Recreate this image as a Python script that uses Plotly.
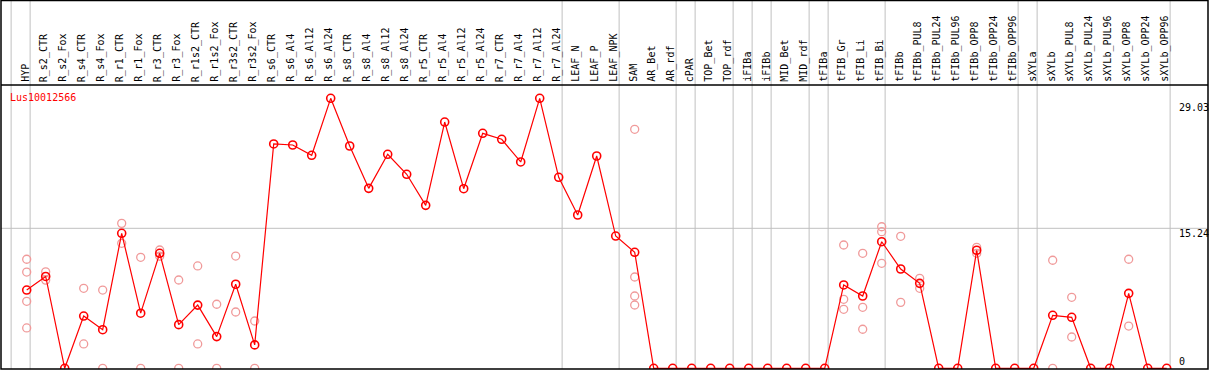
import plotly.graph_objects as go

gene = "Lus10012566"

categories = [
    "HYP", "R_s2_CTR", "R_s2_Fox", "R_s4_CTR", "R_s4_Fox", "R_r1_CTR", "R_r1_Fox",
    "R_r3_CTR", "R_r3_Fox", "R_r1s2_CTR", "R_r1s2_Fox", "R_r3s2_CTR", "R_r3s2_Fox",
    "R_s6_CTR", "R_s6_Al4", "R_s6_Al12", "R_s6_Al24", "R_s8_CTR", "R_s8_Al4",
    "R_s8_Al12", "R_s8_Al24", "R_r5_CTR", "R_r5_Al4", "R_r5_Al12", "R_r5_Al24",
    "R_r7_CTR", "R_r7_Al4", "R_r7_Al12", "R_r7_Al24", "LEAF_N", "LEAF_P", "LEAF_NPK",
    "SAM", "AR_Bet", "AR_rdf", "cPAR", "TOP_Bet", "TOP_rdf", "iFIBa", "iFIBb",
    "MID_Bet", "MID_rdf", "tFIBa", "tFIB_Gr", "tFIB_Li", "tFIB_Bi", "tFIBb",
    "tFIBb_PUL8", "tFIBb_PUL24", "tFIBb_PUL96", "tFIBb_OPP8", "tFIBb_OPP24",
    "tFIBb_OPP96", "sXYLa", "sXYLb", "sXYLb_PUL8", "sXYLb_PUL24", "sXYLb_PUL96",
    "sXYLb_OPP8", "sXYLb_OPP24", "sXYLb_OPP96",
]

means = [
    8.52, 10.0, 0, 5.69, 4.2, 14.70, 6.0, 12.52, 4.75, 6.88, 3.45, 9.15, 2.55,
    24.42, 24.31, 23.19, 29.39, 24.2, 19.59, 23.3, 21.12, 17.74, 26.81, 19.55, 25.58,
    24.93, 22.46, 29.39, 20.79, 16.69, 23.11, 14.40,
    12.63, 0, 0, 0, 0, 0, 0, 0, 0, 0, 0,
    9.07, 7.87, 13.78, 10.81, 9.25, 0, 0, 12.85, 0, 0,
    0, 5.77, 5.55, 0, 0, 8.16, 0, 0,
]

replicates = [
    [11.87, 10.48, 7.29, 4.39], [10.5, 9.6], [], [8.71, 2.65], [8.52, 0],
    [15.78, 13.61], [12.08, 0], [12.88, 12.2], [9.61, 0], [11.14, 2.65], [6.97, 0],
    [12.22, 6.13], [5.15, 0],
    [], [], [], [], [], [], [], [], [], [], [], [], [], [], [], [], [], [], [],
    [26.02, 9.94, 7.87, 6.89], [], [], [], [], [], [], [], [], [], [],
    [13.42, 7.51, 6.42], [12.52, 6.64, 4.25], [15.41, 14.87, 11.43], [14.37, 7.18],
    [9.8, 8.71], [], [], [13.17, 12.52], [], [], [],
    [11.76, 0], [7.73, 3.41], [], [], [11.87, 4.6], [], [],
]

# index of last category in each group (group separators)
group_ends = [-1, 0, 28, 31, 34, 35, 37, 38, 39, 41, 42, 45, 52, 53, 60]

y_ticks = [29.03, 15.24, 0]
y_tick_labels = ["29.03", "15.24", "0"]

xs = list(range(len(categories)))
rep_x = [i for i, r in enumerate(replicates) for _ in r]
rep_y = [v for r in replicates for v in r]

fig = go.Figure()
fig.add_trace(go.Scatter(
    x=rep_x, y=rep_y, mode="markers",
    marker=dict(symbol="circle-open", size=8, color="#f09a9a", line=dict(width=1.3, color="#f09a9a")),
    hoverinfo="skip",
))
fig.add_trace(go.Scatter(
    x=xs, y=means, mode="lines+markers",
    line=dict(color="#ff0000", width=1.2),
    marker=dict(symbol="circle-open", size=8, color="#ff0000", line=dict(width=1.6, color="#ff0000")),
))

W, H = 1209, 370
ml, mr, mt, mb = 1, 1, 85, 1
plot_h = H - mt - mb
top_paper = (H - mb - 0.5) / plot_h

shapes = []
for g in group_ends:
    shapes.append(dict(type="line", xref="x", yref="paper", x0=g + 0.18, x1=g + 0.18,
                       y0=0, y1=top_paper, line=dict(color="#c0c0c0", width=1), layer="below"))
shapes.append(dict(type="line", xref="paper", yref="y", x0=0, x1=1, y0=y_ticks[1], y1=y_ticks[1],
                   line=dict(color="#c0c0c0", width=1), layer="below"))
# frame and header separator
shapes.append(dict(type="rect", xref="paper", yref="paper", x0=0, x1=1, y0=0, y1=top_paper,
                   line=dict(color="black", width=1.5)))
shapes.append(dict(type="line", xref="paper", yref="paper", x0=0, x1=1, y0=1, y1=1,
                   line=dict(color="black", width=1.5)))

mono = "DejaVu Sans Mono"
annotations = []
for i, c in enumerate(categories):
    annotations.append(dict(x=i, y=1, xref="x", yref="paper", text=c, textangle=-90,
                            showarrow=False, xanchor="center", yanchor="bottom",
                            xshift=-2, yshift=1, font=dict(family=mono, size=10, color="black")))
tick_x = (1177 - ml) / (W - ml - mr)
for v, t in zip(y_ticks, y_tick_labels):
    if v == 0:
        annotations.append(dict(x=tick_x, y=v, xref="paper", yref="y", text=t, showarrow=False,
                                xanchor="left", yanchor="bottom", yshift=-1,
                                font=dict(family=mono, size=10, color="black")))
    else:
        annotations.append(dict(x=tick_x, y=v, xref="paper", yref="y", text=t, showarrow=False,
                                xanchor="left", yanchor="top", yshift=2,
                                font=dict(family=mono, size=10, color="black")))
annotations.append(dict(x=(8 - ml) / (W - ml - mr), y=1, xref="paper", yref="paper", text=gene,
                        showarrow=False, xanchor="left", yanchor="top", yshift=-5,
                        font=dict(family=mono, size=10, color="#ff0000")))

scale = 9.186
y0 = -0.7 / scale
y1 = y0 + plot_h / scale
x0 = -25.7 / 19
x1 = x0 + (W - ml - mr) / 19

fig.update_layout(
    width=W, height=H,
    margin=dict(l=ml, r=mr, t=mt, b=mb, pad=0),
    paper_bgcolor="white", plot_bgcolor="white",
    showlegend=False,
    hovermode=False,
    xaxis=dict(range=[x0, x1], visible=False, showgrid=False, zeroline=False),
    yaxis=dict(range=[y0, y1], visible=False, showgrid=False, zeroline=False),
    shapes=shapes, annotations=annotations,
)

fig.write_html(
    "out.html",
    config={"displayModeBar": False, "staticPlot": True},
    post_script="document.body.style.margin='0';document.body.style.overflow='hidden';",
)
